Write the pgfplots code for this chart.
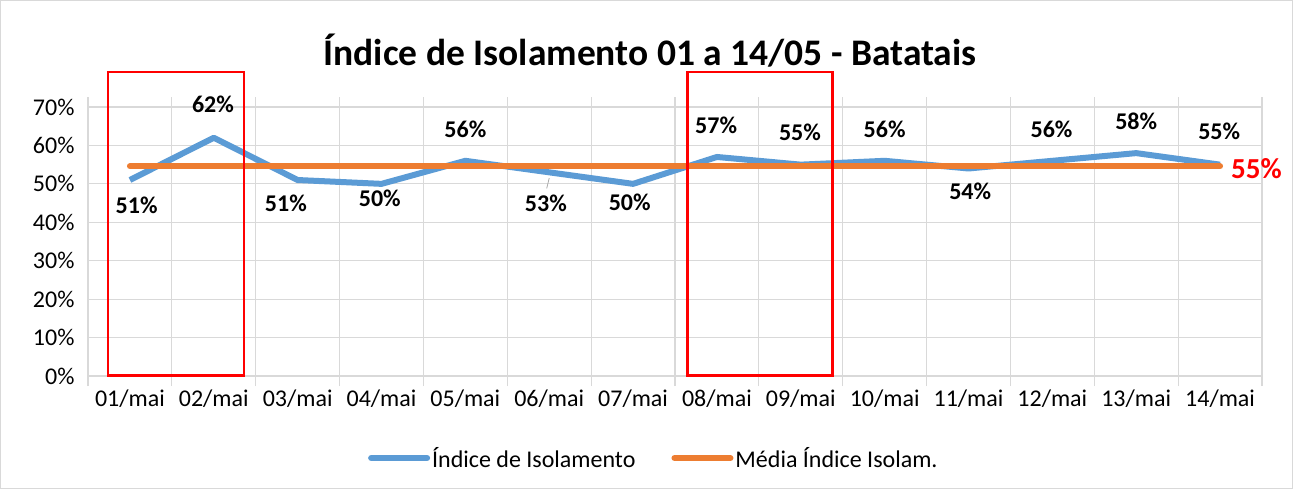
\documentclass[border=0pt]{standalone}
\usepackage{fontspec}
\setmainfont{Carlito}
\usepackage{pgfplots}
\pgfplotsset{compat=1.18}
\definecolor{isoblue}{HTML}{5B9BD5}
\definecolor{isoorange}{HTML}{ED7D31}
\definecolor{gridgray}{HTML}{D9D9D9}
\definecolor{boxred}{HTML}{FF0000}

\begin{document}
\begin{tikzpicture}[x=1pt,y=1pt]
\useasboundingbox (0,0) rectangle (1293,-489);
\draw[gridgray, line width=1pt] (0.5,-0.5) rectangle (1292.5,-488.5);
\node[font=\bfseries\fontsize{37.5}{41}\selectfont] at (650,-51) {Índice de Isolamento 01 a 14/05 - Batatais};
\begin{axis}[
  at={(88pt,-376pt)}, anchor=south west,
  scale only axis, width=1174pt, height=269pt,
  clip=false,
  xmin=-0.5, xmax=13.5, ymin=0, ymax=70,
  xtick={-0.5,0.5,...,13.5},
  x tick label as interval,
  xticklabels={01/mai,02/mai,03/mai,04/mai,05/mai,06/mai,07/mai,08/mai,09/mai,10/mai,11/mai,12/mai,13/mai,14/mai},
  ytick={0,10,...,70},
  yticklabels={0\%,10\%,20\%,30\%,40\%,50\%,60\%,70\%},
  grid=major,
  major grid style={gridgray, line width=1.2pt},
  axis line style={gridgray, line width=1.2pt},
  tick align=outside,
  major tick length=10pt,
  xtick style={gridgray, line width=1.2pt},
  ytick style={draw=none},
  tick label style={font=\fontsize{24}{28}\selectfont, text=black},
  legend style={at={(0.482,-0.305)}, anchor=center, draw=none, fill=none,
    legend columns=2, font=\fontsize{24}{28}\selectfont,
    /tikz/every even column/.append style={column sep=34pt}},
  legend image code/.code={\draw[#1, line cap=round] (0pt,0pt) -- (56pt,0pt);},
]
\addplot[isoblue, line width=6pt, line join=round] coordinates {
  (0,51) (1,62) (2,51) (3,50) (4,56) (5,53) (6,50)
  (7,57) (8,55) (9,56) (10,54) (11,56) (12,58) (13,55)
};
\addlegendentry{Índice de Isolamento}
\addplot[isoorange, line width=6pt, line cap=round] coordinates {
  (0,54.57) (1,54.57) (2,54.57) (3,54.57) (4,54.57) (5,54.57) (6,54.57)
  (7,54.57) (8,54.57) (9,54.57) (10,54.57) (11,54.57) (12,54.57) (13,54.57)
};
\addlegendentry{Média Índice Isolam.}

% data labels
\begin{scope}[every node/.style={font=\bfseries\fontsize{24}{28}\selectfont}]
\node at (axis cs:0.08,44.5) {51\%};
\node at (axis cs:0.99,70.8) {62\%};
\node at (axis cs:1.86,45.0) {51\%};
\node at (axis cs:2.98,46.3) {50\%};
\node at (axis cs:4.00,64.3) {56\%};
\node at (axis cs:4.96,45.0) {53\%};
\node at (axis cs:5.96,45.3) {50\%};
\node at (axis cs:6.99,65.3) {57\%};
\node at (axis cs:7.99,63.5) {55\%};
\node at (axis cs:9.00,64.3) {56\%};
\node at (axis cs:10.02,48.1) {54\%};
\node at (axis cs:10.99,64.3) {56\%};
\node at (axis cs:12.00,66.4) {58\%};
\node at (axis cs:12.99,63.8) {55\%};
\end{scope}
\draw[gray!70, line width=0.75pt] (axis cs:5.00,51.5) -- (axis cs:4.97,48.8);
\node[anchor=west, text=boxred, font=\bfseries\fontsize{29}{32}\selectfont, inner sep=0pt]
  at (axis cs:13.13,54.0) {55\%};

% highlight boxes
\draw[boxred, line width=2.6pt] (axis cs:-0.26,0.2) rectangle (axis cs:1.36,79.1);
\draw[boxred, line width=2.6pt] (axis cs:6.65,0.2) rectangle (axis cs:8.38,79.1);
\end{axis}
\end{tikzpicture}
\end{document}
